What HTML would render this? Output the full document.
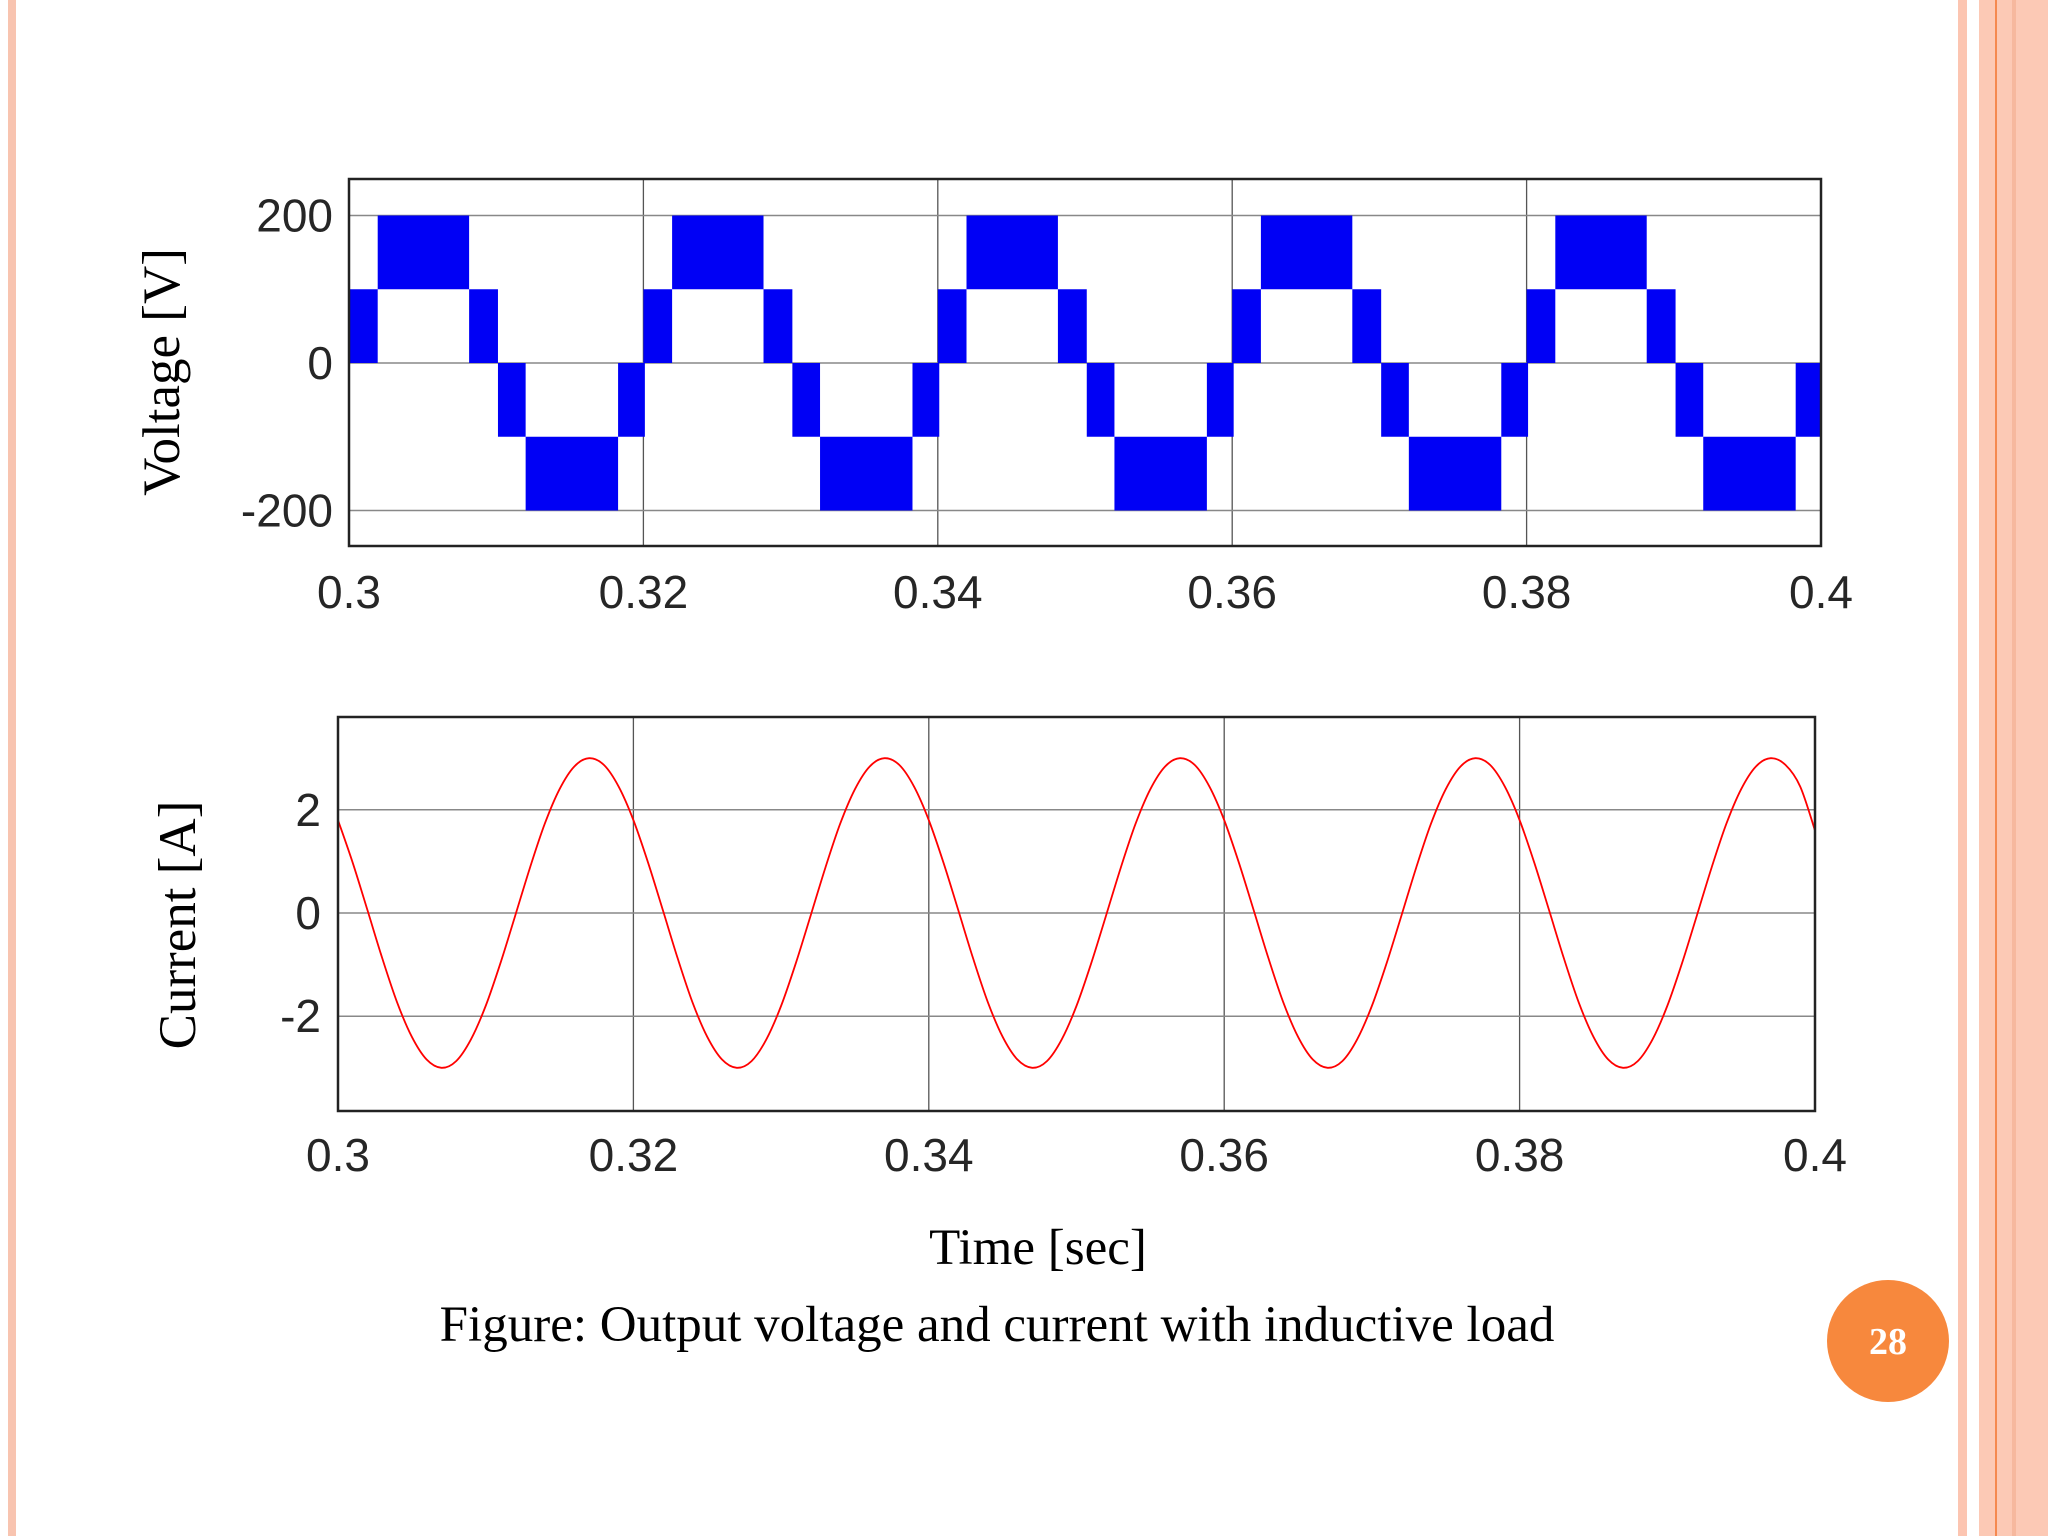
<!DOCTYPE html>
<html><head><meta charset="utf-8"><style>
html,body{margin:0;padding:0;background:#fff}
svg{display:block}
.tick{font-family:"Liberation Sans",sans-serif;font-size:46px;fill:#262626}
.ser{font-family:"Liberation Serif",serif;fill:#000}
</style></head><body>
<svg width="2048" height="1536" viewBox="0 0 2048 1536">
<rect x="0" y="0" width="2048" height="1536" fill="#fff"/>
<rect x="8" y="0" width="8" height="1536" fill="#f8c4b0"/>
<rect x="1958" y="0" width="9" height="1536" fill="#fcc5b1"/>
<rect x="1979" y="0" width="69" height="1536" fill="#fcc9b5"/>
<rect x="1995" y="0" width="2" height="1536" fill="#f5894f"/>
<rect x="2012" y="0" width="4" height="1536" fill="#f6b89e"/>
<g id="vplot"></g>
<g id="iplot"></g>
<text class="ser" x="167" y="372" font-size="53" text-anchor="middle" dominant-baseline="middle" transform="rotate(-90 167 372)">Voltage [V]</text>
<text class="ser" x="183" y="925" font-size="53" text-anchor="middle" dominant-baseline="middle" transform="rotate(-90 183 925)">Current [A]</text>
<text class="ser" x="1038" y="1264" font-size="51" text-anchor="middle">Time [sec]</text>
<text class="ser" x="997" y="1341" font-size="51" text-anchor="middle">Figure: Output voltage and current with inductive load</text>
<circle cx="1888" cy="1341" r="61" fill="#f7883d"/>
<text class="ser" x="1888" y="1354" font-size="38" font-weight="bold" style="fill:#fff" text-anchor="middle">28</text>
</svg>
<script>
const xTicks=[0.3,0.32,0.34,0.36,0.38,0.4];
const xTickLabels=["0.3","0.32","0.34","0.36","0.38","0.4"];
const vTicks=[200,0,-200];
const vTickLabels=["200","0","-200"];
const iTicks=[2,0,-2];
const iTickLabels=["2","0","-2"];
const vPeriodStarts=[0.3,0.32,0.34,0.36,0.38];
const vSegStart=[0,0.00195,0.00816,0.01012,0.0120,0.01828];
const vSegEnd=[0.00195,0.00816,0.01012,0.0120,0.01828,0.0201];
const vSegLow=[0,100,0,-100,-200,-100];
const vSegHigh=[100,200,100,0,-100,0];
const iT0=0.3, iDt=0.001;
const iValues=[1.80,0.97,0.05,-0.88,-1.73,-2.40,-2.84,-3.00,-2.87,-2.45,-1.80,-0.97,-0.05,0.88,1.73,2.40,2.84,3.00,2.87,2.45,
1.80,0.97,0.05,-0.88,-1.73,-2.40,-2.84,-3.00,-2.87,-2.45,-1.80,-0.97,-0.05,0.88,1.73,2.40,2.84,3.00,2.87,2.45,
1.80,0.97,0.05,-0.88,-1.73,-2.40,-2.84,-3.00,-2.87,-2.45,-1.80,-0.97,-0.05,0.88,1.73,2.40,2.84,3.00,2.87,2.45,
1.80,0.97,0.05,-0.88,-1.73,-2.40,-2.84,-3.00,-2.87,-2.45,-1.80,-0.97,-0.05,0.88,1.73,2.40,2.84,3.00,2.87,2.45,
1.80,0.97,0.05,-0.88,-1.73,-2.40,-2.84,-3.00,-2.87,-2.45,-1.80,-0.97,-0.05,0.88,1.73,2.40,2.84,3.00,2.87,2.45,1.60];

const NS="http://www.w3.org/2000/svg";
function mk(tag,attrs,parent){const e=document.createElementNS(NS,tag);for(const k in attrs)e.setAttribute(k,attrs[k]);parent.appendChild(e);return e;}
function axes(g,L,R,T,B,yTicks,yLabels,ys,xs,yLabX,xLabY,tag){
  mk('rect',{x:L,y:T,width:R-L,height:B-T,fill:'#fff'},g);
  xTicks.forEach((t,i)=>{
    if(i>0&&i<xTicks.length-1){const l=mk('line',{x1:xs(t),x2:xs(t),y1:T,y2:B,stroke:'#555','stroke-width':1.3},g);
    
    }
    const tx=mk('text',{x:xs(t),y:xLabY,class:'tick','text-anchor':'middle'},g);tx.textContent=xTickLabels[i];
    
    
  });
  yTicks.forEach((v,i)=>{
    const l=mk('line',{x1:L,x2:R,y1:ys(v),y2:ys(v),stroke:'#888','stroke-width':1.5},g);
    
    
    const tx=mk('text',{x:yLabX,y:ys(v)+16,class:'tick','text-anchor':'end'},g);tx.textContent=yLabels[i];
    
    
  });
}
(function(){
  const g=document.getElementById('vplot');
  const L=349,R=1821,T=179,B=546;
  const xs=t=>L+(t-0.3)/0.1*(R-L);
  const ys=v=>363-v*(363-215.5)/200;
  axes(g,L,R,T,B,vTicks,vTickLabels,ys,xs,333,608,'voltage');
  vPeriodStarts.forEach(p=>{
    for(let i=0;i<vSegStart.length;i++){
      const x1=xs(Math.max(0.3,p+vSegStart[i])),x2=xs(Math.min(0.4,p+vSegEnd[i]));
      if(x2<=x1)continue;
      const r=mk('rect',{x:x1,y:ys(vSegHigh[i]),width:x2-x1,height:ys(vSegLow[i])-ys(vSegHigh[i]),fill:'#0000f5'},g);
      
      
    }
  });
  const f=mk('rect',{x:L,y:T,width:R-L,height:B-T,fill:'none',stroke:'#222','stroke-width':2.5},g);
  
  
})();
(function(){
  const g=document.getElementById('iplot');
  const L=338,R=1815,T=717,B=1111;
  const xs=t=>L+(t-0.3)/0.1*(R-L);
  const ys=v=>913-v*51.6;
  axes(g,L,R,T,B,iTicks,iTickLabels,ys,xs,321,1171,'current');
  const pts=iValues.map((v,i)=>[xs(iT0+i*iDt),ys(v)]);
  let d='M'+pts[0][0]+','+pts[0][1];
  for(let i=0;i<pts.length-1;i++){
    const p0=pts[Math.max(0,i-1)],p1=pts[i],p2=pts[i+1],p3=pts[Math.min(pts.length-1,i+2)];
    const c1=[p1[0]+(p2[0]-p0[0])/6,p1[1]+(p2[1]-p0[1])/6];
    const c2=[p2[0]-(p3[0]-p1[0])/6,p2[1]-(p3[1]-p1[1])/6];
    d+=' C'+c1[0]+','+c1[1]+' '+c2[0]+','+c2[1]+' '+p2[0]+','+p2[1];
  }
  const p=mk('path',{d:d,fill:'none',stroke:'#f00','stroke-width':1.8},g);
  
  
  const f=mk('rect',{x:L,y:T,width:R-L,height:B-T,fill:'none',stroke:'#222','stroke-width':2.5},g);
  
  
})();
</script>
</body></html>
